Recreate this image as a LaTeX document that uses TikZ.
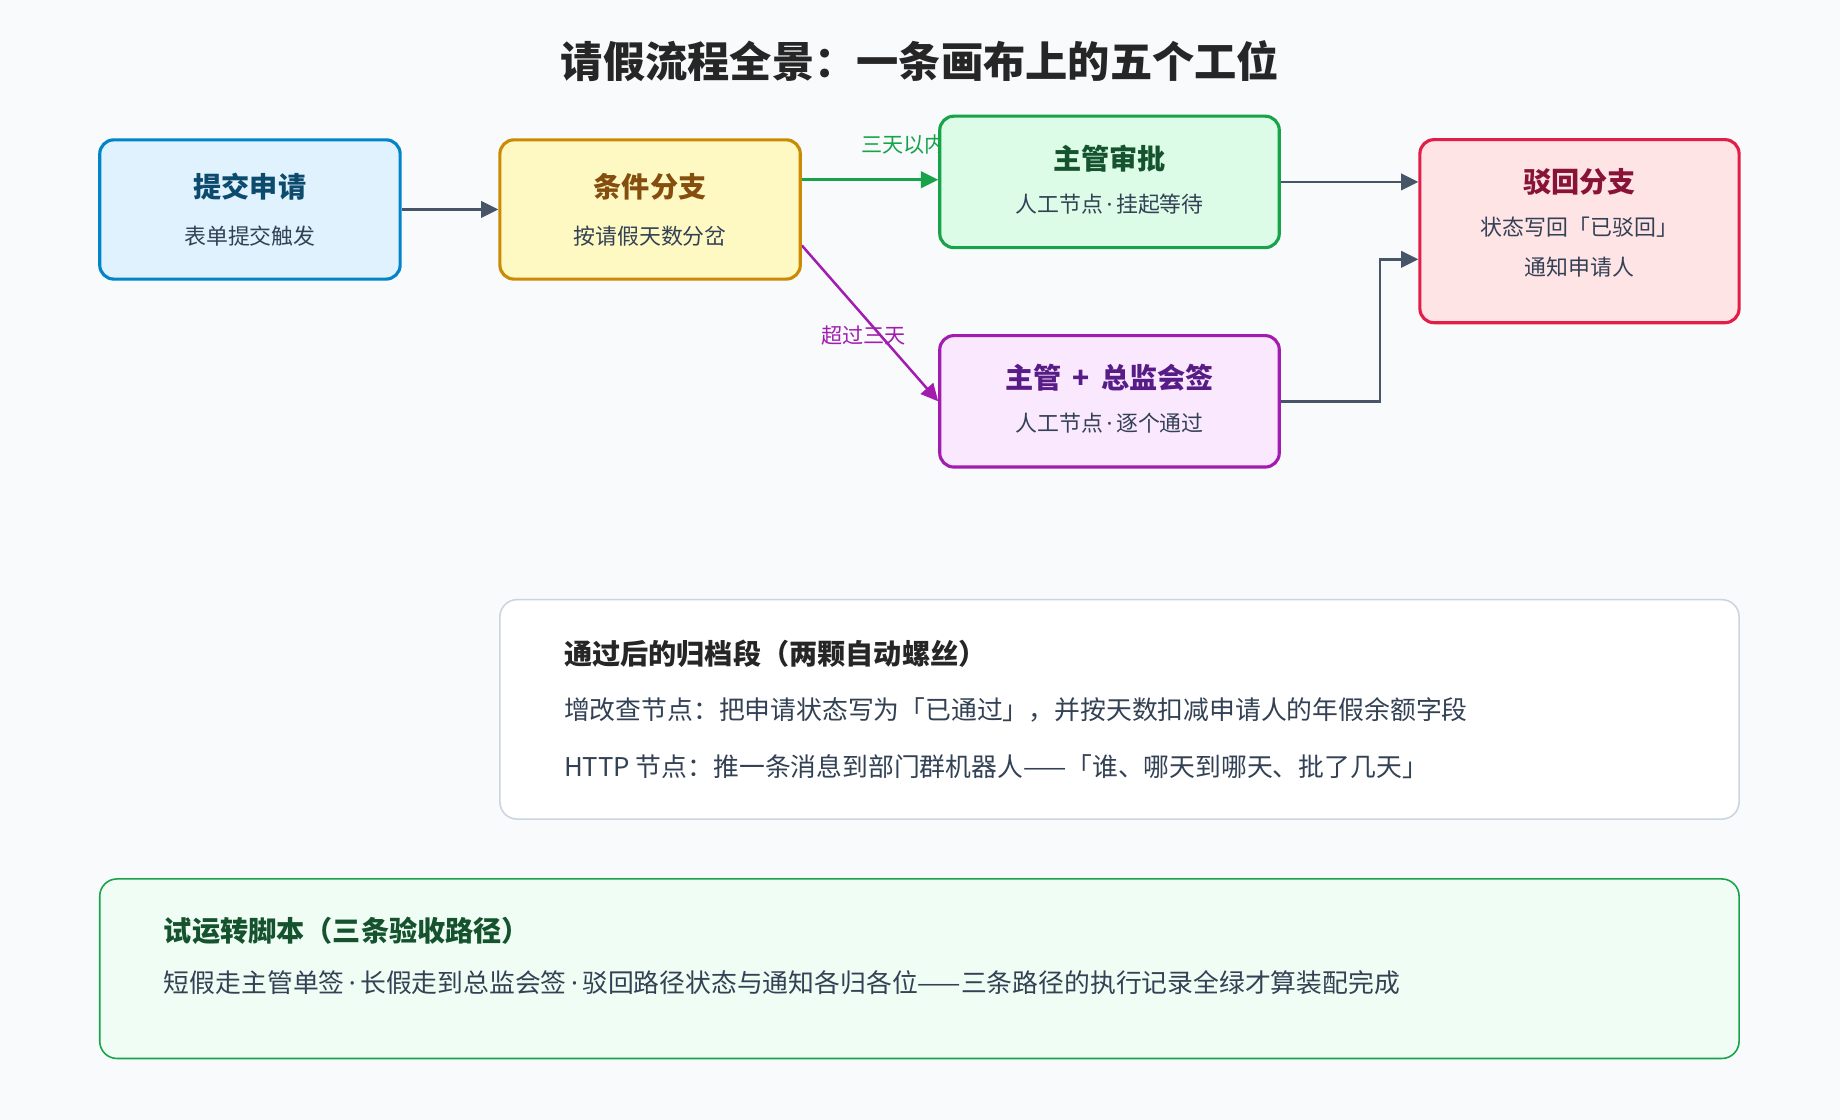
\documentclass[tikz,border=0pt]{standalone}
\usepackage{fontspec}
\setmainfont{Noto Sans CJK SC}
\newfontfamily\latinfont{Noto Sans}
\usetikzlibrary{positioning}
\usetikzlibrary{arrows.meta}
\pgfdeclarelayer{edges}
\pgfsetlayers{edges,main}

\definecolor{bgc}{HTML}{F8FAFC}
\definecolor{edgec}{HTML}{475569}
\definecolor{txtc}{HTML}{334155}
\newcommand{\mdot}{{\latinfont\,·\,}}

\tikzset{
  box/.style={draw, line width=2pt, rounded corners=9pt, minimum width=192pt, minimum height=89pt, align=center},
  ttl/.style={font=\fontsize{18}{21}\selectfont\bfseries},
  sub/.style={font=\fontsize{14}{17}\selectfont, text=txtc},
  flow/.style={draw=edgec, line width=1.6pt, -{Triangle[length=11pt,width=10.5pt]}},
}

\begin{document}
\begin{tikzpicture}[x=0.75pt,y=-0.75pt]

\begin{pgfonlayer}{edges}
\fill[bgc] (0,0) rectangle (1568,954);
\end{pgfonlayer}

\node[font=\fontsize{27}{32}\selectfont\bfseries, text=black!85] (title) at (784,52) {请假流程全景：一条画布上的五个工位};

%the five stations
\node[box, draw={rgb,255:red,2;green,132;blue,199}, fill={rgb,255:red,224;green,242;blue,254}] (submit) at (213,178.5) {};
\node[ttl, text={rgb,255:red,12;green,74;blue,110}] at (213,159) {提交申请};
\node[sub] at (213,201) {表单提交触发};

\node[box, draw={rgb,255:red,202;green,138;blue,4}, fill={rgb,255:red,254;green,249;blue,195}] (cond) at (554,178.5) {};
\node[ttl, text={rgb,255:red,133;green,77;blue,14}] at (554,159) {条件分支};
\node[sub] at (554,201) {按请假天数分岔};

\node[box, minimum width=217pt, minimum height=84pt, draw={rgb,255:red,22;green,163;blue,74}, fill={rgb,255:red,220;green,252;blue,231}] (appr) at (945.5,155) {};
\node[ttl, text={rgb,255:red,20;green,83;blue,45}] at (945.5,135) {主管审批};
\node[sub] at (945.5,174) {人工节点\mdot 挂起等待};

\node[box, minimum width=217pt, minimum height=84pt, draw={rgb,255:red,162;green,28;blue,175}, fill={rgb,255:red,250;green,232;blue,255}] (sign) at (945.5,342) {};
\node[ttl, text={rgb,255:red,88;green,28;blue,135}] at (945.5,322) {主管 \,+\, 总监会签};
\node[sub] at (945.5,361) {人工节点\mdot 逐个通过};

\node[box, minimum width=204pt, minimum height=117pt, draw={rgb,255:red,225;green,29;blue,72}, fill={rgb,255:red,255;green,228;blue,230}] (reject) at (1346,197) {};
\node[ttl, text={rgb,255:red,136;green,19;blue,55}] at (1346,155) {驳回分支};
\node[sub] at (1346,194) {状态写回「已驳回」};
\node[sub] at (1346,228) {通知申请人};

%connectors
\begin{pgfonlayer}{edges}
\coordinate (c1) at ([yshift=19pt]cond.east);
\coordinate (c2) at ([yshift=22.5pt]cond.south east);
\coordinate (s1) at ([yshift=31.5pt]reject.west);
\coordinate (s2) at ([yshift=-18pt]reject.west);
\coordinate (bend) at (1176,0);
\draw[flow] (submit) -- (cond);
\draw[flow, draw={rgb,255:red,22;green,163;blue,74}, fill={rgb,255:red,22;green,163;blue,74}] (c1) -- (c1 -| appr.west)
  node[pos=0.7, xshift=4pt, yshift=22.5pt, font=\fontsize{13.5}{16}\selectfont, text={rgb,255:red,22;green,163;blue,74}] {三天以内};
\draw[flow, draw={rgb,255:red,162;green,28;blue,175}, fill={rgb,255:red,162;green,28;blue,175}] (c2) -- (sign.west)
  node[pos=0.5, xshift=-4pt, yshift=-7.5pt, font=\fontsize{13.5}{16}\selectfont, text={rgb,255:red,162;green,28;blue,175}] {超过三天};
\draw[flow] (s1 -| appr.east) -- (s1);
\draw[flow] (sign.east) -| (bend |- s2) -- (s2);
\end{pgfonlayer}

%archive panel
\draw[draw={rgb,255:red,203;green,213;blue,225}, line width=1pt, fill=white, rounded corners=11pt] (426,511) rectangle (1482,698);
\node[anchor=west, font=\fontsize{18}{21}\selectfont\bfseries, text=black!85] (arch) at (476,557) {通过后的归档段（两颗自动螺丝）};
\node[anchor=west, font=\fontsize{16.5}{19}\selectfont, text=txtc] (arch1) at (476,605) {增改查节点：把申请状态写为「已通过」，并按天数扣减申请人的年假余额字段};
\node[anchor=west, font=\fontsize{16.5}{19}\selectfont, text=txtc] (arch2) at (476,653) {HTTP 节点：推一条消息到部门群机器人——「谁、哪天到哪天、批了几天」};

%trial panel
\draw[draw={rgb,255:red,22;green,163;blue,74}, line width=1pt, fill={rgb,255:red,240;green,253;blue,244}, rounded corners=11pt] (85,749) rectangle (1482,902);
\node[anchor=west, font=\fontsize{18}{21}\selectfont\bfseries, text={rgb,255:red,20;green,83;blue,45}] (trial) at (135,793) {试运转脚本（三条验收路径）};
\node[anchor=west, font=\fontsize{16.5}{19}\selectfont, text=txtc] (trial1) at (135,837) {短假走主管单签\mdot 长假走到总监会签\mdot 驳回路径状态与通知各归各位——三条路径的执行记录全绿才算装配完成};

\end{tikzpicture}
\end{document}
